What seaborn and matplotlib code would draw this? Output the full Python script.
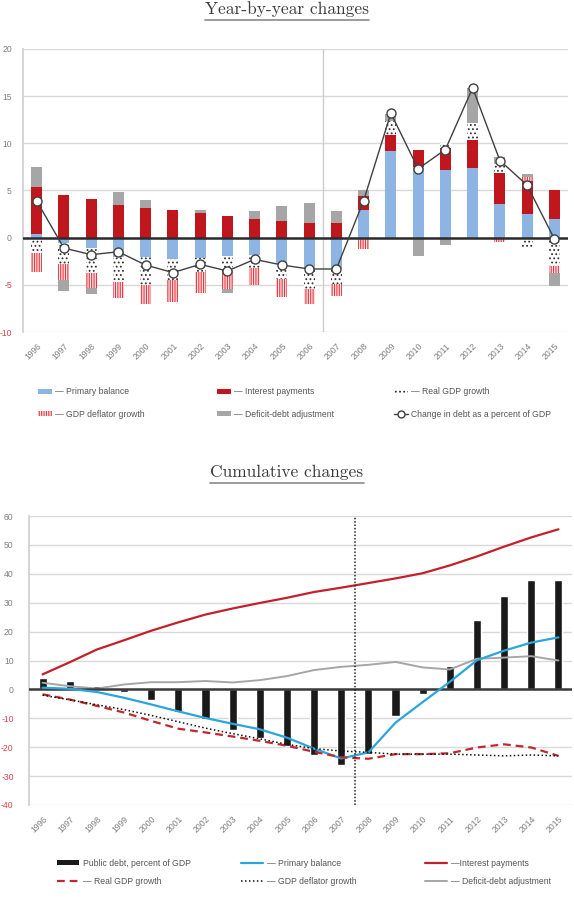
import numpy as np
import matplotlib
matplotlib.use("Agg")
import matplotlib.pyplot as plt
import seaborn as sns
from matplotlib.patches import Patch
from matplotlib.lines import Line2D

years = [str(y) for y in range(1996, 2016)]

# ---- Year-by-year contributions (percentage points of GDP) ----
yy_primary = [0.35, -0.6, -1.1, -2.1, -2.1, -2.27, -2.2, -1.92, -1.85, -2.8,
              -3.32, -3.32, 2.9, 9.23, 7.48, 7.13, 7.41, 3.53, 2.48, 1.99]
yy_interest = [5.0, 4.55, 4.1, 3.43, 3.15, 2.97, 2.62, 2.34, 2.03, 1.78,
               1.6, 1.57, 1.54, 1.64, 1.82, 2.38, 2.94, 3.32, 3.52, 3.04]
yy_real_gdp = [-1.6, -2.2, -2.6, -2.6, -2.97, -2.27, -1.47, -1.57, -1.4, -1.6,
               -2.1, -1.57, -0.17, 1.5, 0.0, 0.5, 1.85, 0.98, -1.08, -3.0]
yy_deflator = [-2.0, -1.65, -1.65, -1.65, -2.0, -2.27, -2.17, -1.92, -1.82, -1.9,
               -1.58, -1.3, -0.98, 0.0, 0.0, 0.0, 0.0, -0.49, 0.4, -0.7]
yy_sfa = [2.1, -1.2, -0.6, 1.37, 0.87, 0.0, 0.35, -0.45, 0.77, 1.54,
          2.07, 1.23, 0.56, 0.77, -1.96, -0.8, 3.67, 0.77, 0.38, -1.4]
yy_change = [3.9, -1.1, -1.8, -1.5, -2.9, -3.7, -2.83, -3.53, -2.3, -2.9,
             -3.32, -3.32, 3.92, 13.2, 7.3, 9.34, 15.87, 8.18, 5.56, -0.14]

# ---- Cumulative changes ----
cum_debt = [4.0, 2.9, 1.1, -0.9, -3.8, -7.7, -10.3, -14.1, -16.7, -19.5,
            -22.8, -26.2, -22.2, -9.2, -1.7, 8.0, 23.9, 32.2, 37.8, 37.7]
cum_primary = [0.6, 0.2, -0.9, -2.9, -5.2, -7.6, -9.9, -11.9, -13.8, -16.7,
               -20.5, -23.9, -21.8, -11.5, -4.4, 2.6, 10.1, 13.4, 16.2, 18.0]
cum_interest = [5.2, 9.4, 13.8, 17.0, 20.3, 23.2, 25.9, 28.0, 29.9, 31.7,
                33.7, 35.2, 36.8, 38.4, 40.2, 42.9, 46.0, 49.4, 52.6, 55.4]
cum_real_gdp = [-1.7, -3.5, -5.7, -8.0, -10.9, -13.6, -14.9, -16.3, -17.8, -19.5,
                -21.6, -23.5, -24.0, -22.4, -22.4, -22.1, -20.1, -19.0, -20.1, -23.0]
cum_deflator = [-2.0, -3.6, -5.3, -7.0, -9.0, -11.2, -13.4, -15.3, -17.1, -19.0,
                -20.5, -21.3, -21.8, -22.4, -22.4, -22.4, -22.7, -23.0, -22.7, -23.0]
cum_sfa = [2.3, 1.1, 0.3, 1.7, 2.5, 2.5, 2.9, 2.4, 3.2, 4.6,
           6.7, 7.8, 8.5, 9.5, 7.6, 6.9, 10.6, 11.0, 11.5, 10.0]

sns.set_theme(style="white")
plt.rcParams["font.family"] = ["Liberation Sans", "DejaVu Sans"]
plt.rcParams["axes.unicode_minus"] = False
plt.rcParams["hatch.linewidth"] = 0.8

BLUE = "#8db4e2"
RED = "#c0171f"
GRAY = "#a6a6a6"
TICK = "#7f7f7f"
NEG = "#e0404a"
GRID = "#d9d9d9"
DEF_HATCH = "|||||||"

fig = plt.figure(figsize=(5.74, 9.08), dpi=100)
W, H = 574.0, 908.0
x = np.arange(len(years))

# ================= Top chart =================
ax1 = fig.add_axes([23 / W, 1 - 332 / H, 545 / W, 283 / H])
styles = [
    (yy_primary, dict(color=BLUE, linewidth=0)),
    (yy_interest, dict(color=RED, linewidth=0)),
    (yy_real_gdp, dict(facecolor="white", edgecolor="#333333", hatch="....", linewidth=0)),
    (yy_deflator, dict(facecolor="#fdeaea", edgecolor="#e8323c", hatch=DEF_HATCH, linewidth=0)),
    (yy_sfa, dict(color=GRAY, linewidth=0)),
]
pos_base = np.zeros(len(x))
neg_base = np.zeros(len(x))
for vals, st in styles:
    v = np.array(vals, dtype=float)
    bottom = np.where(v >= 0, pos_base, neg_base)
    ax1.bar(x, v, bottom=bottom, width=0.4, zorder=2, **st)
    pos_base += np.clip(v, 0, None)
    neg_base += np.clip(v, None, 0)

sns.lineplot(x=x, y=yy_change, ax=ax1, color="#404040", linewidth=1.0,
             marker="o", markersize=6.5, markerfacecolor="white",
             markeredgecolor="#404040", markeredgewidth=1.0, zorder=5)

ax1.set_xlim(-0.5, 19.5)
ax1.set_ylim(-10, 20)
ax1.set_yticks(range(-10, 21, 5))
ax1.set_axisbelow(True)
ax1.yaxis.grid(True, color=GRID, linewidth=1)
ax1.axhline(0, color="#2b2b2b", linewidth=1.8, zorder=4)
ax1.axvline(10.5, color="#cccccc", linewidth=1, zorder=1)
for s in ["top", "right", "bottom"]:
    ax1.spines[s].set_visible(False)
ax1.spines["left"].set_color("#d0d0d0")
ax1.set_xticks(x)
ax1.set_xticklabels(years, rotation=45, ha="right", rotation_mode="anchor")
ax1.tick_params(axis="both", length=0, labelsize=6.2, labelcolor=TICK)
ax1.tick_params(axis="y", pad=8)
ax1.tick_params(axis="x", pad=7)
for lab, val in zip(ax1.get_yticklabels(), range(-10, 21, 5)):
    if val < 0:
        lab.set_color(NEG)
ax1.set_xlabel("")
ax1.set_ylabel("")

# ================= Bottom chart =================
ax2 = fig.add_axes([29 / W, 1 - 805 / H, 543 / W, 289 / H])
sns.barplot(x=x, y=cum_debt, ax=ax2, native_scale=True, color="#1a1a1a",
            width=0.3, saturation=1, zorder=3)
sns.lineplot(x=x, y=cum_primary, ax=ax2, color="#2aa6dd", linewidth=1.6, zorder=5)
sns.lineplot(x=x, y=cum_interest, ax=ax2, color="#c4202b", linewidth=1.6, zorder=5)
sns.lineplot(x=x, y=cum_real_gdp, ax=ax2, color="#c0282e", linewidth=1.6,
             linestyle=(0, (3.5, 2.2)), zorder=5)
sns.lineplot(x=x, y=cum_deflator, ax=ax2, color="#111111", linewidth=1.1,
             linestyle=(0, (1, 1.6)), zorder=5)
sns.lineplot(x=x, y=cum_sfa, ax=ax2, color="#a6a6a6", linewidth=1.4, zorder=4)

ax2.set_xlim(-0.5, 19.5)
ax2.set_ylim(-40, 60)
ax2.set_yticks(range(-40, 61, 10))
ax2.set_axisbelow(True)
ax2.yaxis.grid(True, color=GRID, linewidth=1)
ax2.axhline(0, color="#3a3a3a", linewidth=1.8, zorder=4)
ax2.axvline(11.5, color="#222222", linewidth=1.1, linestyle=(0, (1, 1.2)), zorder=6)
for s in ["top", "right", "bottom"]:
    ax2.spines[s].set_visible(False)
ax2.spines["left"].set_color("#d0d0d0")
ax2.set_xticks(x)
ax2.set_xticklabels(years, rotation=45, ha="right", rotation_mode="anchor")
ax2.tick_params(axis="both", length=0, labelsize=6.2, labelcolor=TICK)
ax2.tick_params(axis="y", pad=11)
ax2.tick_params(axis="x", pad=7)
for lab, val in zip(ax2.get_yticklabels(), range(-40, 61, 10)):
    if val < 0:
        lab.set_color(NEG)
ax2.set_xlabel("")
ax2.set_ylabel("")

# ================= Legends =================
LEGTXT = "#555555"
def col_legend(handles, labels, xpix, ypix, rowgap, hl=1.6):
    leg = fig.legend(handles, labels, loc="center left",
                     bbox_to_anchor=(xpix / W, 1 - ypix / H), frameon=False,
                     fontsize=6.2, handlelength=hl, handleheight=0.55,
                     handletextpad=0.4, borderpad=0, borderaxespad=0,
                     labelspacing=rowgap, labelcolor=LEGTXT)
    return leg

h_pb = Patch(facecolor=BLUE, edgecolor="none")
h_ip = Patch(facecolor=RED, edgecolor="none")
h_rg = Patch(facecolor="white", edgecolor="#333333", hatch="....", linewidth=0)
h_df = Patch(facecolor="#fdeaea", edgecolor="#e8323c", hatch=DEF_HATCH, linewidth=0)
h_sf = Patch(facecolor=GRAY, edgecolor="none")
h_ch = Line2D([], [], color="#404040", linewidth=1.0, marker="o", markersize=5,
              markerfacecolor="white", markeredgecolor="#404040")

col_legend([h_pb, h_df], ["\u2014 Primary balance", "\u2014 GDP deflator growth"], 38, 403, 1.55)
col_legend([h_ip, h_sf], ["\u2014 Interest payments", "\u2014 Deficit-debt adjustment"], 217, 403, 1.55)
col_legend([h_rg, h_ch], ["\u2014 Real GDP growth", "Change in debt as a percent of GDP"], 394, 403, 1.55)

b_debt = Patch(facecolor="#1a1a1a", edgecolor="none")
b_pb = Line2D([], [], color="#2aa6dd", linewidth=1.6)
b_ip = Line2D([], [], color="#c4202b", linewidth=1.6)
b_rg = Line2D([], [], color="#c0282e", linewidth=1.6, linestyle=(0, (3.5, 2.2)))
b_df = Line2D([], [], color="#111111", linewidth=1.1, linestyle=(0, (1, 1.6)))
b_sf = Line2D([], [], color="#a6a6a6", linewidth=1.4)

col_legend([b_debt, b_rg], ["Public debt, percent of GDP", "\u2014 Real GDP growth"], 57, 872.5, 1.1, hl=2.6)
col_legend([b_pb, b_df], ["\u2014 Primary balance", "\u2014 GDP deflator growth"], 241, 872.5, 1.1, hl=2.6)
col_legend([b_ip, b_sf], ["\u2014Interest payments", "\u2014 Deficit-debt adjustment"], 425, 872.5, 1.1, hl=2.6)

# ================= Titles (underlined) =================
TITLE_COL = "#3a3a3a"
t1 = fig.text(0.5, 1 - 9 / H, "Year-by-year changes", ha="center", va="center",
              family="cmr10", fontsize=12.5, color=TITLE_COL)
t2 = fig.text(0.5, 1 - 472 / H, "Cumulative changes", ha="center", va="center",
              family="cmr10", fontsize=12.5, color=TITLE_COL)
fig.canvas.draw()
r = fig.canvas.get_renderer()
for t, uy in [(t1, 20), (t2, 483)]:
    bb = t.get_window_extent(renderer=r)
    fig.add_artist(Line2D([bb.x0 / W, bb.x1 / W], [1 - uy / H, 1 - uy / H],
                          transform=fig.transFigure, color="#8a8a8a", linewidth=1.2))

fig.savefig("out.png", dpi=100)
